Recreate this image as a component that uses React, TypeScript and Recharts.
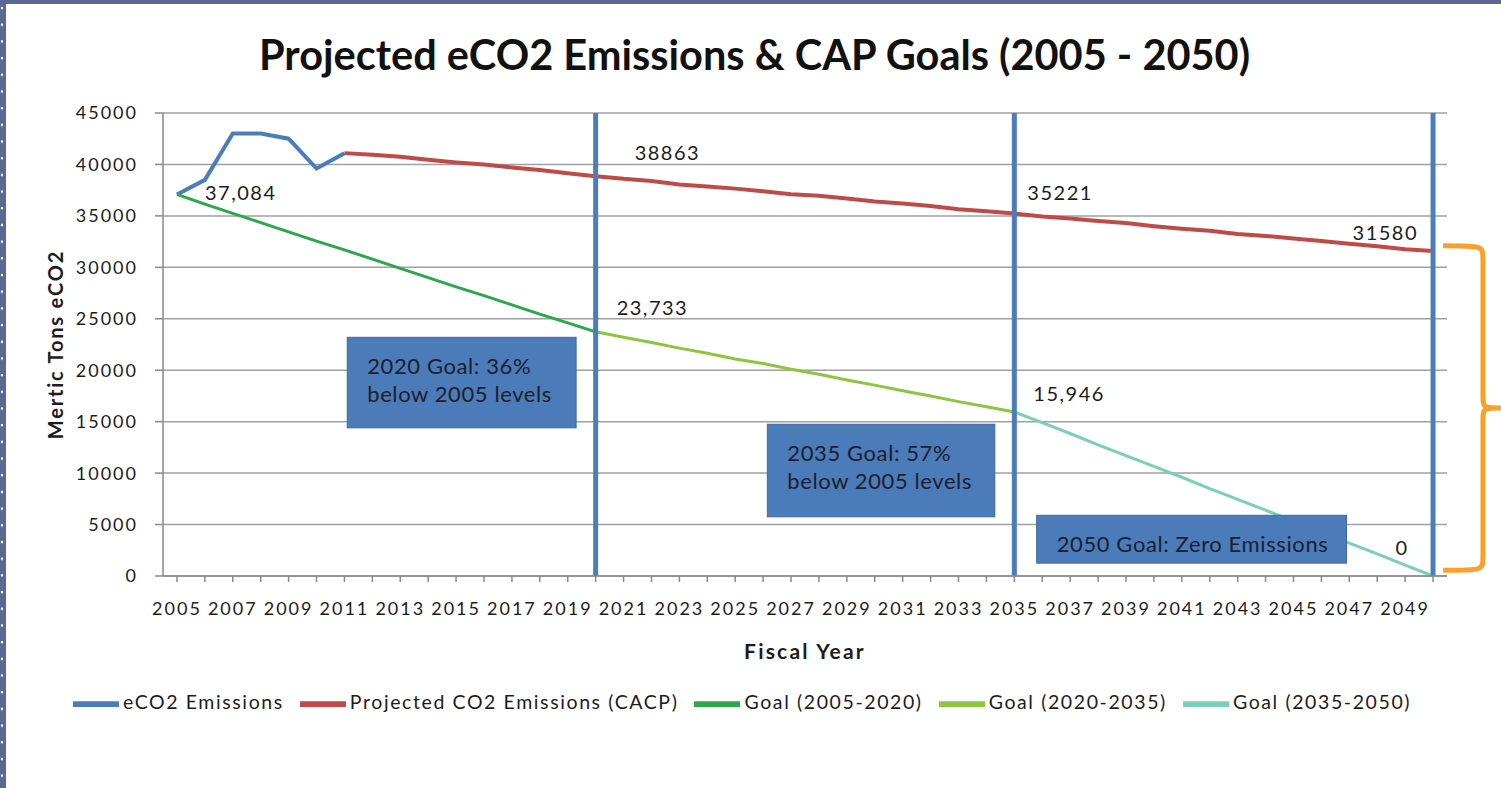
import React from 'react';
import {
  LineChart,
  Line,
  XAxis,
  YAxis,
  CartesianGrid,
  ReferenceLine,
  ReferenceArea,
  Legend,
  Label,
} from 'recharts';

// ---------- data ----------
const years = [
  2005, 2006, 2007, 2008, 2009, 2010, 2011, 2012, 2013, 2014, 2015, 2016,
  2017, 2018, 2019, 2020, 2021, 2022, 2023, 2024, 2025, 2026, 2027, 2028,
  2029, 2030, 2031, 2032, 2033, 2034, 2035, 2036, 2037, 2038, 2039, 2040,
  2041, 2042, 2043, 2044, 2045, 2046, 2047, 2048, 2049, 2050,
];

// eCO2 Emissions 2005-2011
const emissions = [37084, 38500, 43000, 43000, 42500, 39600, 41100];

// Projected CO2 Emissions (CACP) 2011-2050
const projected = [
  41100, 40950, 40750, 40450, 40200, 40000, 39700, 39450, 39150, 38863,
  38600, 38400, 38050, 37850, 37650, 37400, 37100, 36950, 36700, 36400,
  36200, 35950, 35650, 35450, 35221, 34950, 34750, 34500, 34300, 34000,
  33750, 33550, 33250, 33050, 32800, 32550, 32300, 32050, 31750, 31580,
];

// Goal (2005-2020)
const goal2005to2020 = [
  37084, 36150, 35250, 34350, 33450, 32550, 31700, 30800, 29900, 29000,
  28100, 27250, 26350, 25450, 24600, 23733,
];

// Goal (2020-2035)
const goal2020to2035 = [
  23733, 23200, 22700, 22150, 21650, 21100, 20650, 20100, 19600, 19050,
  18550, 18000, 17500, 16950, 16450, 15946,
];

// Goal (2035-2050)
const goal2035to2050 = [
  15946, 14900, 13850, 12750, 11700, 10650, 9600, 8500, 7450, 6400, 5300,
  4250, 3200, 2150, 1050, 0,
];

const yTicks = [0, 5000, 10000, 15000, 20000, 25000, 30000, 35000, 40000, 45000];
const milestoneYears = [2020, 2035, 2050];
const seriesOrder = ['emissions', 'projected', 'goal1', 'goal2', 'goal3'];

const goalNotes = [
  { lines: ['2020 Goal: 36%', 'below 2005 levels'], x1: 2011.1, x2: 2019.3, y1: 14400, y2: 23200 },
  { lines: ['2035 Goal: 57%', 'below 2005 levels'], x1: 2026.15, x2: 2034.3, y1: 5750, y2: 14750 },
  { lines: ['2050 Goal: Zero Emissions'], x1: 2035.8, x2: 2046.9, y1: 1250, y2: 5900 },
];

// ---------- table ----------
const data = years.map((year, i) => ({
  year,
  emissions: i < emissions.length ? emissions[i] : null,
  projected: year >= 2011 ? projected[year - 2011] : null,
  goal1: year <= 2020 ? goal2005to2020[year - 2005] : null,
  goal2: year >= 2020 && year <= 2035 ? goal2020to2035[year - 2020] : null,
  goal3: year >= 2035 ? goal2035to2050[year - 2035] : null,
}));

// ---------- styles ----------
const FONT = 'Lato, "Open Sans", sans-serif';
const TEXT = '#1c1c1c';
const AXIS = '#8a8a8a';
const GRID = '#a0a0a0';
const MILESTONE = '#4a7ebb';
const BOX = '#4b7bb8';

type LabelSpec = { year: number; dx: number; dy: number; anchor: 'start' | 'middle' | 'end'; comma: boolean };

const makeLabelDot = (specs: LabelSpec[], key: string) => (props: any) => {
  const { cx, cy, payload, value } = props;
  const spec = specs.find((s) => payload && s.year === payload.year);
  const k = `${key}-${payload ? payload.year : props.index}`;
  if (!spec || cx == null || cy == null || value == null) return <g key={k} />;
  const v = Array.isArray(value) ? value[1] : value;
  const text = spec.comma ? Number(v).toLocaleString('en-US') : String(v);
  return (
    <text
      key={k}
      x={cx + spec.dx}
      y={cy + spec.dy}
      textAnchor={spec.anchor}
      dominantBaseline="central"
      fontFamily={FONT}
      fontSize={20}
      letterSpacing={1.5}
      fill={TEXT}
    >
      {text}
    </text>
  );
};

const XTick = (props: any) => {
  const { x, y, payload } = props;
  if (payload.value % 2 === 0) return <g />;
  return (
    <text x={x} y={y} dy="0.71em" textAnchor="middle" fontFamily={FONT} fontSize={18} letterSpacing={2} fill={TEXT}>
      {payload.value}
    </text>
  );
};

const YTick = (props: any) => {
  const { x, y, payload } = props;
  return (
    <text x={x} y={y} dy="0.355em" textAnchor="end" fontFamily={FONT} fontSize={18} letterSpacing={2} fill={TEXT}>
      {payload.value}
    </text>
  );
};

const NoteBox = (lines: string[]) => (props: any) => {
  const { x, y, width, height } = props;
  return (
    <g>
      <rect x={x} y={y} width={width} height={height} fill={BOX} stroke="#41699c" strokeWidth={1} />
      {lines.map((ln, i) => (
        <text
          key={i}
          x={x + 20}
          y={y + 28 + i * 28}
          dominantBaseline="central"
          fontFamily={FONT}
          fontSize={22}
          letterSpacing={0.6}
          fill="#1b2030"
        >
          {ln}
        </text>
      ))}
    </g>
  );
};

const Bracket = (props: any) => {
  const { x, y, width, height } = props;
  const x0 = x;
  const xt = x + width;
  const xv = x + width * 0.7;
  const yt = y;
  const yb = y + height;
  const ym = y + height / 2;
  const r = 14;
  const d = [
    `M ${x0} ${yt}`,
    `C ${xv} ${yt} ${xv} ${yt} ${xv} ${yt + r}`,
    `L ${xv} ${ym - r}`,
    `C ${xv} ${ym} ${xv} ${ym} ${xt} ${ym}`,
    `C ${xv} ${ym} ${xv} ${ym} ${xv} ${ym + r}`,
    `L ${xv} ${yb - r}`,
    `C ${xv} ${yb} ${xv} ${yb} ${x0} ${yb}`,
  ].join(' ');
  return <path d={d} fill="none" stroke="#f7a12c" strokeWidth={5} strokeLinejoin="round" />;
};

const emissionLabels: LabelSpec[] = [{ year: 2005, dx: 28, dy: -2, anchor: 'start', comma: true }];
const projectedLabels: LabelSpec[] = [
  { year: 2020, dx: 39, dy: -24, anchor: 'start', comma: false },
  { year: 2035, dx: 13, dy: -22, anchor: 'start', comma: false },
  { year: 2050, dx: -15, dy: -19, anchor: 'end', comma: false },
];
const goal1Labels: LabelSpec[] = [{ year: 2020, dx: 21, dy: -25, anchor: 'start', comma: true }];
const goal2Labels: LabelSpec[] = [{ year: 2035, dx: 19, dy: -19, anchor: 'start', comma: true }];
const goal3Labels: LabelSpec[] = [{ year: 2050, dx: -31, dy: -29, anchor: 'middle', comma: true }];

export default function App() {
  return (
    <div style={{ position: 'absolute', left: 0, top: 0, width: 1501, height: 788, background: '#fff', overflow: 'hidden' }}>
      {/* slide frame */}
      <div
        style={{
          position: 'absolute', left: 0, top: 0, width: 6, height: 788, background: '#5b6893',
          backgroundImage: 'radial-gradient(circle at 2px 8px, #ffffff 1px, transparent 1.6px)',
          backgroundSize: '6px 16.7px',
        }}
      />
      <div style={{ position: 'absolute', left: 0, top: 0, width: 1501, height: 4, background: '#5b6893' }} />
      <div
        style={{
          position: 'absolute', left: 0, top: 28, width: 1509, textAlign: 'center',
          fontFamily: FONT, fontWeight: 700, fontSize: 41.5, color: '#111', lineHeight: '52px',
        }}
      >
        Projected eCO2 Emissions &amp; CAP Goals (2005 - 2050)
      </div>
      <LineChart
        width={1501}
        height={788}
        data={data}
        margin={{ top: 113, right: 54, bottom: 126, left: 53 }}
        style={{ position: 'absolute', left: 0, top: 0, fontFamily: FONT }}
      >
        <CartesianGrid vertical={false} stroke={GRID} strokeWidth={1.5} />
        <XAxis
          type="number"
          dataKey="year"
          domain={[2004.5, 2050.5]}
          ticks={years}
          interval={0}
          height={60}
          tick={<XTick />}
          tickSize={6}
          tickMargin={20}
          stroke={AXIS}
          strokeWidth={1.5}
        >
          <Label
            content={(p: any) => (
              <text
                x={p.viewBox.x + p.viewBox.width / 2}
                y={p.viewBox.y + 74}
                textAnchor="middle"
                dominantBaseline="central"
                fontFamily={FONT}
                fontWeight={700}
                fontSize={21}
                letterSpacing={2.2}
                fill={TEXT}
              >
                Fiscal Year
              </text>
            )}
          />
        </XAxis>
        <YAxis
          domain={[0, 45000]}
          ticks={yTicks}
          interval={0}
          width={110}
          tick={<YTick />}
          tickSize={8}
          tickMargin={17}
          stroke={AXIS}
          strokeWidth={1.5}
        >
          <Label
            content={(p: any) => {
              const cx = 55;
              const cy = p.viewBox.y + p.viewBox.height / 2;
              return (
                <text
                  x={cx}
                  y={cy}
                  transform={`rotate(-90 ${cx} ${cy})`}
                  textAnchor="middle"
                  dominantBaseline="central"
                  fontFamily={FONT}
                  fontWeight={700}
                  fontSize={20}
                  letterSpacing={1.8}
                  fill={TEXT}
                >
                  Mertic Tons eCO2
                </text>
              );
            }}
          />
        </YAxis>
        <Legend
          verticalAlign="bottom"
          align="center"
          height={26}
          iconType="plainline"
          iconSize={46}
          itemSorter={(item: any) => seriesOrder.indexOf(item.dataKey)}
          wrapperStyle={{ top: 681, fontFamily: FONT, fontSize: 19.5, letterSpacing: 1.6 }}
          formatter={(value: any) => <span style={{ color: TEXT, marginRight: 6 }}>{value}</span>}
        />
        <Line
          name="eCO2 Emissions"
          dataKey="emissions"
          stroke="#4a7ebb"
          strokeWidth={4}
          dot={makeLabelDot(emissionLabels, 'em')}
          activeDot={false}
          isAnimationActive={false}
        />
        <Line
          name="Projected CO2 Emissions (CACP)"
          dataKey="projected"
          stroke="#be4b48"
          strokeWidth={4}
          dot={makeLabelDot(projectedLabels, 'pr')}
          activeDot={false}
          isAnimationActive={false}
        />
        <Line
          name="Goal (2005-2020)"
          dataKey="goal1"
          stroke="#2aa84a"
          strokeWidth={3}
          dot={makeLabelDot(goal1Labels, 'g1')}
          activeDot={false}
          isAnimationActive={false}
        />
        <Line
          name="Goal (2020-2035)"
          dataKey="goal2"
          stroke="#8cc63f"
          strokeWidth={3}
          dot={makeLabelDot(goal2Labels, 'g2')}
          activeDot={false}
          isAnimationActive={false}
        />
        <Line
          name="Goal (2035-2050)"
          dataKey="goal3"
          stroke="#7ad0b6"
          strokeWidth={3}
          dot={makeLabelDot(goal3Labels, 'g3')}
          activeDot={false}
          isAnimationActive={false}
        />
        {goalNotes.map((n, i) => (
          <ReferenceArea
            key={`note-${i}`}
            x1={n.x1}
            x2={n.x2}
            y1={n.y1}
            y2={n.y2}
            ifOverflow="visible"
            shape={NoteBox(n.lines)}
            zIndex={450}
          />
        ))}
        {milestoneYears.map((yr) => (
          <ReferenceLine key={`ms-${yr}`} x={yr} stroke={MILESTONE} strokeWidth={5} ifOverflow="visible" zIndex={460} />
        ))}
        <ReferenceArea
          x1={2050.36}
          x2={2052.4}
          y1={550}
          y2={32100}
          ifOverflow="visible"
          shape={Bracket}
          zIndex={470}
        />
      </LineChart>
    </div>
  );
}
